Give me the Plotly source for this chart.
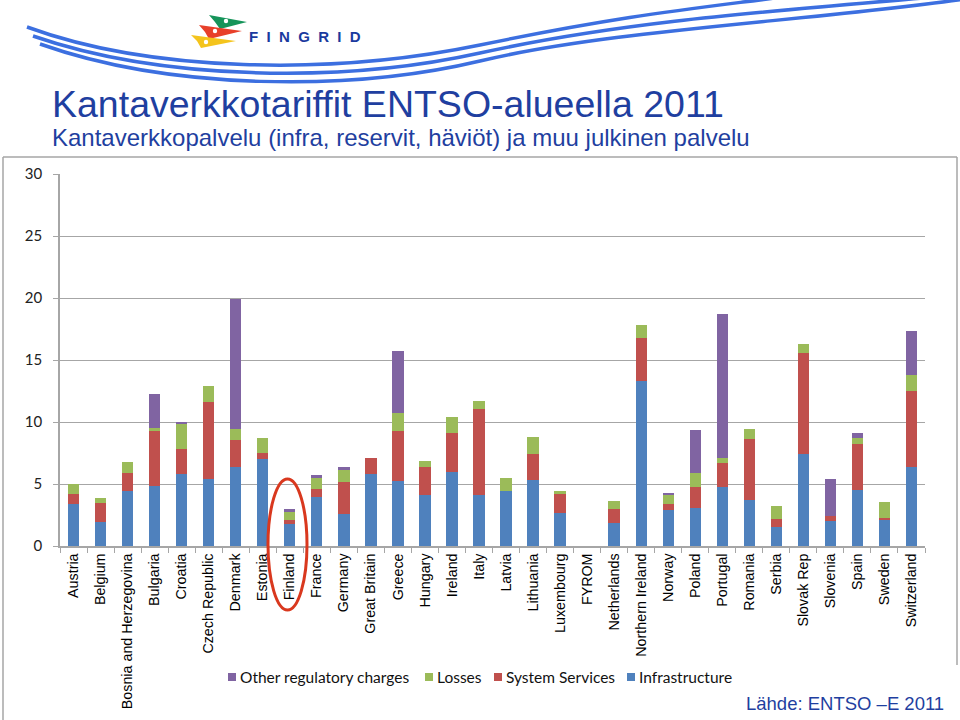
import plotly.graph_objects as go

countries = ["Austria", "Belgium", "Bosnia and Herzegovina", "Bulgaria", "Croatia",
             "Czech Republic", "Denmark", "Estonia", "Finland", "France", "Germany",
             "Great Britain", "Greece", "Hungary", "Ireland", "Italy", "Latvia",
             "Lithuania", "Luxembourg", "FYROM", "Netherlands", "Northern Ireland",
             "Norway", "Poland", "Portugal", "Romania", "Serbia", "Slovak Rep",
             "Slovenia", "Spain", "Sweden", "Switzerland"]

infrastructure = [3.35, 1.93, 4.46, 4.86, 5.80, 5.40, 6.40, 7.00, 1.80, 3.98, 2.55,
                  5.77, 5.23, 4.10, 5.96, 4.10, 4.43, 5.31, 2.68, 0.0, 1.88, 13.29,
                  2.90, 3.04, 4.78, 3.68, 1.53, 7.38, 2.01, 4.49, 2.10, 6.39]
system_services = [0.87, 1.52, 1.39, 4.41, 2.05, 6.20, 2.15, 0.50, 0.30, 0.59, 2.65,
                   1.33, 4.07, 2.28, 3.16, 6.95, 0.0, 2.15, 1.48, 0.0, 1.07, 3.49,
                   0.46, 1.74, 1.88, 4.97, 0.62, 8.19, 0.41, 3.71, 0.18, 6.15]
losses = [0.78, 0.43, 0.94, 0.27, 2.04, 1.30, 0.90, 1.25, 0.65, 0.99, 0.90,
          0.0, 1.43, 0.46, 1.26, 0.68, 1.07, 1.32, 0.27, 0.0, 0.67, 1.08,
          0.80, 1.07, 0.45, 0.80, 1.07, 0.72, 0.0, 0.48, 1.29, 1.23]
other_charges = [0.0, 0.0, 0.0, 2.72, 0.10, 0.0, 10.45, 0.0, 0.25, 0.14, 0.30,
                 0.0, 4.97, 0.0, 0.0, 0.0, 0.0, 0.0, 0.0, 0.0, 0.0, 0.0,
                 0.11, 3.49, 11.63, 0.0, 0.0, 0.0, 3.00, 0.40, 0.0, 3.54]

series_names = ["Infrastructure", "System Services", "Losses", "Other regulatory charges"]
series_values = [infrastructure, system_services, losses, other_charges]
series_colors = ["#4F81BD", "#C0504D", "#9BBB59", "#8064A2"]

y_ticks = [0, 5, 10, 15, 20, 25, 30]

W, H = 960, 720
ML, MR, MT, MB = 60, 35, 174, 174
PW, PH = W - ML - MR, H - MT - MB


def px(x):
    return (x - ML) / PW


def py(y):
    return (H - MB - y) / PH


def path(cmds):
    out = []
    for c in cmds:
        if isinstance(c, str):
            out.append(c)
        else:
            out.append(f"{px(c[0]):.5f},{py(c[1]):.5f}")
    return " ".join(out)


fig = go.Figure()
for name, vals, col in zip(series_names, series_values, series_colors):
    fig.add_trace(go.Bar(x=countries, y=vals, name=name, marker_color=col,
                         marker_line_width=0, showlegend=False))

shapes = []
annotations = []
# swooshes
blue = "#3C6FE0"
for pts in [
    ["M", (27, 27), "C", (150, 72), (330, 76), (480, 45), "S", (700, 8), (790, -4)],
    ["M", (33, 36), "C", (160, 80), (340, 84), (480, 53), "S", (760, 12), (935, -3)],
    ["M", (40, 44), "C", (170, 90), (350, 92), (480, 61), "S", (800, 22), (965, -1)],
]:
    shapes.append(dict(type="path", xref="paper", yref="paper", path=path(pts),
                       line=dict(color=blue, width=3.5), layer="above"))
# flags
for pts, col in [
    (["M", (209, 15), "L", (247, 22), "L", (220, 29), "L", (215, 22), "Z"], "#16945A"),
    (["M", (199, 25), "L", (242, 31), "L", (209, 39), "L", (205, 32), "Z"], "#E8402A"),
    (["M", (191, 35), "L", (236, 41), "L", (201, 48), "L", (197, 41), "Z"], "#F4C41C"),
]:
    shapes.append(dict(type="path", xref="paper", yref="paper", path=path(pts),
                       fillcolor=col, line=dict(width=0), layer="above"))
for cx, cy in [(226, 21), (215, 31), (206, 42)]:
    shapes.append(dict(type="circle", xref="paper", yref="paper",
                       x0=px(cx - 2.2), x1=px(cx + 2.2), y0=py(cy + 2.2), y1=py(cy - 2.2),
                       fillcolor="white", line=dict(width=0), layer="above"))
# frame
fc = "#A6A6A6"
for x0, y0, x1, y1 in [(3, 157, 957, 157), (3, 157, 3, 720), (957, 157, 957, 665)]:
    shapes.append(dict(type="line", xref="paper", yref="paper",
                       x0=px(x0), y0=py(y0), x1=px(x1), y1=py(y1),
                       line=dict(color=fc, width=1.5)))
# red ellipse
shapes.append(dict(type="circle", xref="paper", yref="paper",
                   x0=px(268), x1=px(307), y0=py(610), y1=py(479),
                   line=dict(color="#D9381E", width=3), layer="above"))

# legend (drawn manually, reversed order)
legend_x = [228, 425, 494, 627]
legend_y = 677
for lx, name, col in zip(legend_x, series_names[::-1], series_colors[::-1]):
    shapes.append(dict(type="rect", xref="paper", yref="paper",
                       x0=px(lx), x1=px(lx + 8), y0=py(legend_y + 4), y1=py(legend_y - 4),
                       fillcolor=col, line=dict(width=0)))
    annotations.append(dict(text=name, x=px(lx + 10), y=py(legend_y), xref="paper",
                            yref="paper", xanchor="left", yanchor="middle",
                            showarrow=False,
                            font=dict(family="Lato", size=15.5, color="#111")))

title_col = "#1F3FA0"
annotations += [
    dict(text="Kantaverkkotariffit ENTSO-alueella 2011", x=px(50), y=py(104),
         xref="paper", yref="paper", xanchor="left", yanchor="middle", showarrow=False,
         font=dict(family="Liberation Sans, Arial", size=37.5, color=title_col)),
    dict(text="Kantaverkkopalvelu (infra, reservit, häviöt) ja muu julkinen palvelu",
         x=px(50), y=py(137), xref="paper", yref="paper", xanchor="left",
         yanchor="middle", showarrow=False,
         font=dict(family="Liberation Sans, Arial", size=24, color=title_col)),
    dict(text="F\u00a0\u00a0I\u00a0\u00a0N\u00a0\u00a0G\u00a0\u00a0R\u00a0\u00a0I\u00a0\u00a0D",
         x=px(247), y=py(36), xref="paper", yref="paper", xanchor="left",
         yanchor="middle", showarrow=False,
         font=dict(family="Liberation Sans, Arial", size=15, color="#1A3A9E",
                   weight="bold")),
    dict(text="Lähde: ENTSO –E 2011", x=px(946), y=py(703), xref="paper",
         yref="paper", xanchor="right", yanchor="middle", showarrow=False,
         font=dict(family="Liberation Sans, Arial", size=18.5, color=title_col)),
]

fig.update_layout(
    width=W, height=H,
    margin=dict(l=ML, r=MR, t=MT, b=MB, autoexpand=False),
    paper_bgcolor="white", plot_bgcolor="white",
    barmode="stack", bargap=0.58,
    showlegend=False,
    shapes=shapes, annotations=annotations,
    xaxis=dict(type="category", showline=True, linecolor=fc, linewidth=1.5,
               ticks="outside", tickson="boundaries", ticklen=5, tickcolor=fc,
               tickangle=-90, showgrid=False,
               tickfont=dict(family="Liberation Sans, Arial", size=14.3, color="#000")),
    yaxis=dict(range=[0, 30], tickvals=y_ticks, showline=True, linecolor=fc,
               linewidth=1.5, ticks="outside", ticklen=5, tickcolor=fc,
               showgrid=True, gridcolor=fc, gridwidth=1.3, zeroline=False,
               ticklabelstandoff=8,
               tickfont=dict(family="Lato", size=15, color="#222")),
)

fig.write_html("out.html", config={"displayModeBar": False},
               post_script="document.body.style.margin='0px';")
